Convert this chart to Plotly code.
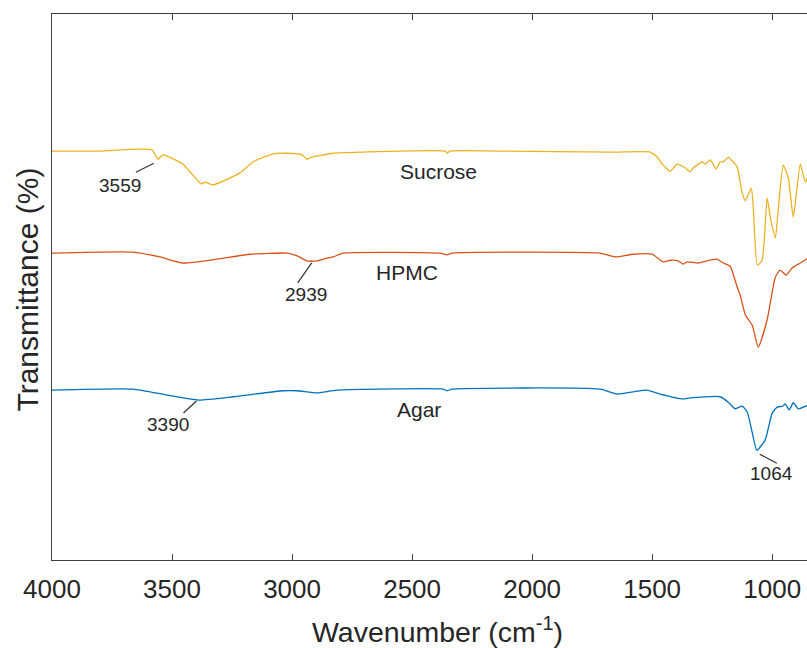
import plotly.graph_objects as go

# FTIR spectra (offset for display), wavenumber in cm^-1, transmittance in %
sucrose_wn = [4000, 3800, 3583, 3559, 3538, 3454, 3379, 3362, 3329, 3217, 3163, 3079,
              3021, 2958, 2938, 2917, 2829, 2717, 2362, 2354, 2342, 2133, 1662, 1508,
              1479, 1458, 1446, 1425, 1396, 1362, 1342, 1329, 1292, 1279, 1258, 1233,
              1217, 1204, 1183, 1162, 1146, 1125, 1112, 1087, 1079, 1062, 1042, 1021,
              1008, 987, 975, 954, 933, 912, 883, 862, 850]
sucrose_t = [74.9, 74.9, 75.1, 73.4, 74.2, 72.5, 68.9, 69.2, 68.7, 70.9, 72.9, 74.4,
             74.5, 74.2, 73.4, 73.8, 74.5, 74.7, 74.9, 74.5, 74.9, 74.9, 74.7, 74.7,
             73.8, 72.5, 72.0, 71.2, 72.5, 71.8, 71.1, 71.8, 72.9, 72.5, 73.3, 71.6,
             72.9, 72.9, 73.8, 72.9, 72.0, 67.2, 65.8, 68.1, 64.7, 54.0, 54.9, 66.3,
             62.8, 59.0, 64.1, 72.3, 70.0, 62.8, 72.5, 69.2, 70.5]

hpmc_wn = [4000, 3663, 3550, 3454, 3313, 3175, 3021, 2979, 2939, 2896, 2854, 2829,
           2787, 2383, 2354, 2333, 1717, 1654, 1579, 1500, 1454, 1425, 1392, 1371,
           1354, 1308, 1271, 1229, 1204, 1175, 1146, 1133, 1112, 1083, 1058, 1021,
           987, 967, 942, 917, 883, 850]
hpmc_t = [56.2, 56.4, 55.5, 54.4, 55.1, 56.0, 56.2, 55.7, 54.8, 54.8, 55.3, 55.5,
          56.2, 56.2, 55.9, 56.2, 56.2, 55.5, 56.0, 56.0, 54.6, 54.9, 54.8, 54.2,
          54.6, 54.4, 54.8, 55.1, 54.4, 53.8, 50.0, 48.5, 44.9, 43.0, 39.0, 44.0,
          51.8, 53.1, 52.2, 53.5, 54.4, 55.3]

agar_wn = [4000, 3663, 3521, 3390, 3246, 3038, 2979, 2896, 2813, 2371, 2354, 2333,
           1717, 1646, 1579, 1521, 1467, 1371, 1342, 1217, 1183, 1154, 1125, 1104,
           1083, 1064, 1029, 1000, 979, 954, 946, 929, 912, 892, 850]
agar_t = [31.1, 31.3, 30.2, 29.3, 29.9, 31.0, 31.0, 30.6, 31.1, 31.3, 31.0, 31.3,
          31.3, 30.4, 30.8, 31.1, 30.4, 29.5, 29.7, 29.9, 28.9, 27.7, 28.2, 27.1,
          23.3, 20.1, 22.0, 26.9, 28.0, 28.2, 28.6, 27.5, 28.8, 27.7, 28.4]

series_names = ["Sucrose", "HPMC", "Agar"]
series_colors = ["#EDB120", "#D95319", "#0072BD"]

# sample name labels (wavenumber, transmittance)
name_label_wn = [2392, 2521, 2471]
name_label_t = [71.2, 52.7, 27.5]

# marked peaks: (series index, wavenumber)
peak_series = [0, 1, 2, 2]
peak_wn = [3559, 2939, 3390, 1064]
# leader line ends and text centre, pixel offsets from the peak (up = positive)
leader_dx0 = [-4, 5, -2, 3]
leader_dy0 = [-4, -2, -1, -4]
leader_dx1 = [-22, -9, -15, 20]
leader_dy1 = [-13, -22, -13, -13]
text_dx = [-38, -1, -30, 15]
text_dy = [-26, -34, -24, -23]

x_ticks = [4000, 3500, 3000, 2500, 2000, 1500, 1000]

all_wn = [sucrose_wn, hpmc_wn, agar_wn]
all_t = [sucrose_t, hpmc_t, agar_t]

fig = go.Figure()
for wn, t, name, col in zip(all_wn, all_t, series_names, series_colors):
    fig.add_trace(go.Scatter(
        x=wn, y=t, mode="lines", name=name,
        line=dict(color=col, width=1.3, shape="spline", smoothing=0.5),
        showlegend=False, hoverinfo="skip",
    ))

font_family = "Liberation Sans, Arial, Helvetica, sans-serif"
text_color = "#262626"

annotations = []
for name, x, y in zip(series_names, name_label_wn, name_label_t):
    annotations.append(dict(x=x, y=y, xref="x", yref="y", text=name,
                            showarrow=False, font=dict(size=21, color=text_color,
                                                       family=font_family)))

shapes = []
for si, w, dx0, dy0, dx1, dy1, tdx, tdy in zip(peak_series, peak_wn, leader_dx0,
                                               leader_dy0, leader_dx1, leader_dy1,
                                               text_dx, text_dy):
    yv = all_t[si][all_wn[si].index(w)]
    shapes.append(dict(type="line", xref="x", yref="y",
                       xsizemode="pixel", ysizemode="pixel",
                       xanchor=w, yanchor=yv,
                       x0=dx0, y0=dy0, x1=dx1, y1=dy1,
                       line=dict(color="#333333", width=1.2)))
    annotations.append(dict(x=w, y=yv, xref="x", yref="y", text=str(w),
                            showarrow=True, arrowcolor="rgba(0,0,0,0)",
                            ax=tdx, ay=-tdy, xanchor="center", yanchor="middle",
                            font=dict(size=19, color=text_color, family=font_family)))

# axis titles
annotations.append(dict(x=0.51, y=-0.128, xref="paper", yref="paper",
                        text="Wavenumber (cm<sup>-1</sup>)", showarrow=False,
                        xanchor="center", yanchor="middle",
                        font=dict(size=28.5, color=text_color, family=font_family)))
annotations.append(dict(x=-0.032, y=0.495, xref="paper", yref="paper",
                        text="Transmittance (%)", showarrow=False, textangle=-90,
                        xanchor="center", yanchor="middle",
                        font=dict(size=30, color=text_color, family=font_family)))

fig.update_layout(
    width=807, height=648,
    margin=dict(l=52, r=0, t=14, b=88),
    paper_bgcolor="white", plot_bgcolor="white",
    annotations=annotations, shapes=shapes,
    xaxis=dict(range=[4000, 855], tickvals=x_ticks, ticks="inside", ticklen=6,
               tickcolor="#404040", showline=True, linecolor="#404040", linewidth=1,
               mirror="ticks", showgrid=False, zeroline=False, ticklabelstandoff=6,
               tickfont=dict(size=26, color=text_color, family=font_family)),
    yaxis=dict(range=[0, 100], showticklabels=False, ticks="", showline=True,
               linecolor="#404040", linewidth=1, mirror=False, showgrid=False,
               zeroline=False),
)

fig.write_html("out.html")
